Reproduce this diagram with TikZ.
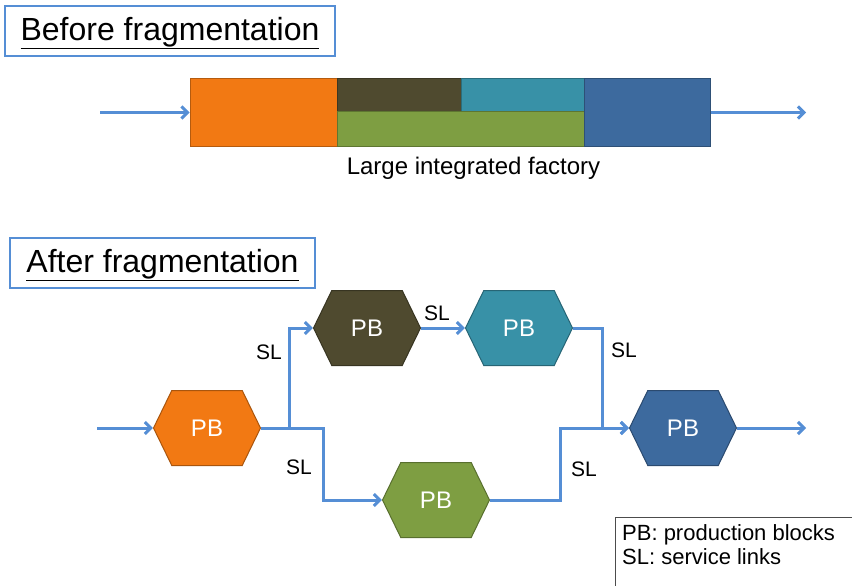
\documentclass[tikz,border=0pt]{standalone}
\usepackage{fontspec}
\setmainfont{Liberation Sans}
\usetikzlibrary{shapes.symbols,arrows.meta,positioning}

\definecolor{linkblue}{RGB}{85,142,213}
\definecolor{pborange}{RGB}{242,121,19}
\definecolor{pbbrown}{RGB}{79,74,47}
\definecolor{pbteal}{RGB}{56,145,167}
\definecolor{pbgreen}{RGB}{126,158,66}
\definecolor{pbblue}{RGB}{61,106,158}

\begin{document}
\begin{tikzpicture}[x=1pt,y=-1pt,
title/.style={draw=linkblue,line width=2.5pt,fill=white,inner sep=0,text depth=4pt,font=\fontsize{32}{36}\selectfont},
block/.style={draw=#1!75!black,fill=#1,line width=1pt,inner sep=0},
pb/.style={shape=signal,signal to=east and west,signal pointer angle=128,minimum width=107pt,minimum height=75pt,inner sep=0,
	draw=#1!70!black,fill=#1,line width=1pt,text=white,font=\fontsize{24}{28}\selectfont},
link/.style={draw=linkblue,line width=3pt,-{Straight Barb[length=6pt,width=12pt]}},
sl/.style={inner sep=0,font=\fontsize{21}{24}\selectfont},]

\useasboundingbox (0,0) rectangle (852,586);

\node [title, minimum width=330pt, minimum height=50pt] (before) at (170,31) {\underline{Before fragmentation}};

\node [block=pborange, minimum width=147pt, minimum height=67pt] (fOrange) at (263.5,112.5) {};
\node [block=pbbrown, minimum width=124pt, minimum height=32.5pt] (fBrown) at (399,95.25) {};
\node [block=pbteal, minimum width=123pt, minimum height=32.5pt] (fTeal) at (522.5,95.25) {};
\node [block=pbgreen, minimum width=247pt, minimum height=34.5pt] (fGreen) at (460.5,128.75) {};
\node [block=pbblue, minimum width=126pt, minimum height=67pt] (fBlue) at (647,112.5) {};
\node [inner sep=0, font=\fontsize{24}{28}\selectfont] (factory) at (473.5,168) {Large integrated factory};

\coordinate (inA) at (100,112.5);
\coordinate (outA) at (806,112.5);
\draw[link] (inA) -- (fOrange.west);
\draw[link] (fBlue.east) -- (outA);

\node [title, minimum width=305pt, minimum height=50pt] (after) at (162.5,263) {\underline{After fragmentation}};

\node [pb=pborange] (pb1) at (207,428) {PB};
\node [pb=pbbrown] (pb2) at (367,328) {PB};
\node [pb=pbteal] (pb3) at (519,328) {PB};
\node [pb=pbgreen] (pb4) at (436,500) {PB};
\node [pb=pbblue] (pb5) at (683,428) {PB};

\coordinate (inB) at (97,428);
\coordinate (outB) at (806,428);
\draw[link] (inB) -- (pb1.west);
\draw[link] (pb1.east) -- ++(28,0) |- (pb2.west);
\draw[link] (pb1.east) -- ++(62,0) |- (pb4.west);
\draw[link] (pb2.east) -- (pb3.west);
\draw[link] (pb3.east) -- ++(29,0) |- (pb5.west);
\draw[link] (pb4.east) -- ++(70,0) |- (pb5.west);
\draw[link] (pb5.east) -- (outB);

\node [sl] (sl1) at (269,352) {SL};
\node [sl] (sl2) at (299,467) {SL};
\node [sl] (sl3) at (437,313) {SL};
\node [sl] (sl4) at (624,350) {SL};
\node [sl] (sl5) at (584,469) {SL};

\draw[black!70,line width=1pt] (852,517) -| (615,586);
\node [anchor=north west, align=left, inner sep=0, font=\fontsize{22}{24}\selectfont] (key) at (622,524) {PB: production blocks\\SL: service links};

\end{tikzpicture}
\end{document}
